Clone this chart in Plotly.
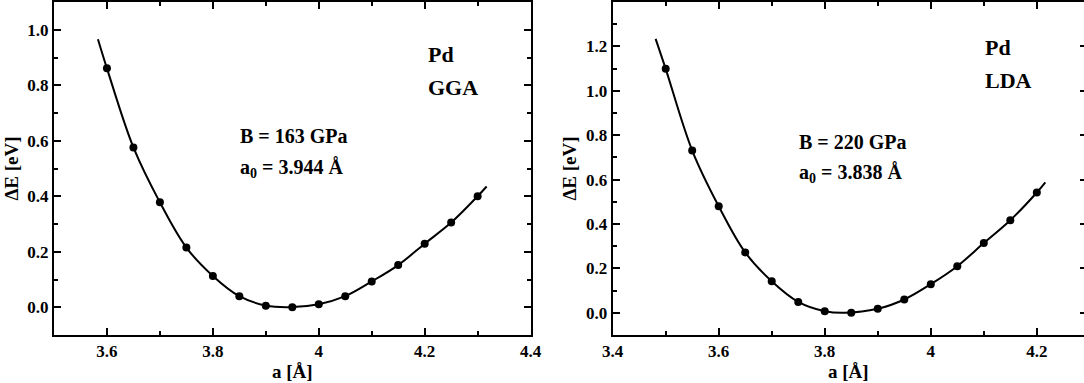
import plotly.graph_objects as go

# ---------------- data ----------------
gga_a = [3.60, 3.65, 3.70, 3.75, 3.80, 3.85, 3.90, 3.95, 4.00, 4.05, 4.10, 4.15, 4.20, 4.25, 4.30]
gga_dE = [0.861, 0.576, 0.378, 0.215, 0.113, 0.040, 0.005, 0.000, 0.011, 0.040, 0.093, 0.152, 0.229, 0.305, 0.400]
gga_fit_a = [3.583, 3.60, 3.65, 3.70, 3.75, 3.80, 3.85, 3.90, 3.944, 4.00, 4.05, 4.10, 4.15, 4.20, 4.25, 4.30, 4.317]
gga_fit_dE = [0.966, 0.861, 0.576, 0.378, 0.215, 0.113, 0.040, 0.006, 0.000, 0.011, 0.040, 0.093, 0.152, 0.229, 0.305, 0.400, 0.435]

lda_a = [3.50, 3.55, 3.60, 3.65, 3.70, 3.75, 3.80, 3.85, 3.90, 3.95, 4.00, 4.05, 4.10, 4.15, 4.20]
lda_dE = [1.099, 0.731, 0.480, 0.272, 0.142, 0.049, 0.007, 0.000, 0.018, 0.060, 0.129, 0.210, 0.314, 0.417, 0.542]
lda_fit_a = [3.481, 3.50, 3.55, 3.60, 3.65, 3.70, 3.75, 3.80, 3.838, 3.90, 3.95, 4.00, 4.05, 4.10, 4.15, 4.20, 4.216]
lda_fit_dE = [1.234, 1.099, 0.731, 0.480, 0.272, 0.142, 0.049, 0.007, 0.000, 0.018, 0.060, 0.129, 0.210, 0.314, 0.417, 0.542, 0.588]

x_title = "a [Å]"
y_title = "ΔE [eV]"
gga_labels = ["Pd", "GGA", "B = 163 GPa", "a<sub>0</sub> = 3.944 Å"]
lda_labels = ["Pd", "LDA", "B = 220 GPa", "a<sub>0</sub> = 3.838 Å"]

FONT = "Liberation Serif"

fig = go.Figure()

# fit curves
fig.add_trace(go.Scatter(x=gga_fit_a, y=gga_fit_dE, mode="lines",
                         line=dict(color="black", width=2, shape="spline", smoothing=1.0),
                         xaxis="x", yaxis="y", hoverinfo="skip"))
fig.add_trace(go.Scatter(x=lda_fit_a, y=lda_fit_dE, mode="lines",
                         line=dict(color="black", width=2, shape="spline", smoothing=1.0),
                         xaxis="x2", yaxis="y2", hoverinfo="skip"))
# data points
fig.add_trace(go.Scatter(x=gga_a, y=gga_dE, mode="markers",
                         marker=dict(color="black", size=8), xaxis="x", yaxis="y"))
fig.add_trace(go.Scatter(x=lda_a, y=lda_dE, mode="markers",
                         marker=dict(color="black", size=8), xaxis="x2", yaxis="y2"))
# invisible trace to register the right-side tick axis of the second panel
fig.add_trace(go.Scatter(x=lda_a[:1], y=lda_dE[:1], mode="markers",
                         marker=dict(color="rgba(0,0,0,0)", size=1),
                         xaxis="x2", yaxis="y3", hoverinfo="skip"))

minor = dict(ticks="inside", ticklen=4, tickwidth=2, tickcolor="black", dtick=0.1, showgrid=False)
common = dict(showline=True, linecolor="black", linewidth=2, ticks="inside", ticklen=7,
              tickwidth=2, tickcolor="black", showgrid=False, zeroline=False,
              tickfont=dict(family=FONT, size=17, color="black", weight="bold"),
              automargin=False, minor=minor)
xt = dict(text=x_title, font=dict(family=FONT, size=19, color="black", weight="bold"), standoff=4)
yt = dict(text=y_title, font=dict(family=FONT, size=19, color="black", weight="bold"), standoff=4)

fig.update_layout(
    width=1084, height=383,
    margin=dict(l=54, r=0, t=2, b=48),
    paper_bgcolor="white", plot_bgcolor="white",
    showlegend=False,
    font=dict(family=FONT, color="black", weight="bold"),
    xaxis=dict(domain=[0, 0.4627], range=[3.5, 4.4], tick0=3.4, dtick=0.2, anchor="y",
               mirror="ticks", title=xt, **common),
    yaxis=dict(domain=[0, 1], range=[-0.1, 1.1], tick0=0, dtick=0.2, tickformat=".1f",
               anchor="x", mirror="ticks", title=yt, **common),
    xaxis2=dict(domain=[0.5424, 1.0], range=[3.4, 4.289], tick0=3.4, dtick=0.2, anchor="y2",
                mirror="ticks", title=xt, **common),
    yaxis2=dict(domain=[0, 1], range=[-0.1, 1.4], tick0=0, dtick=0.2, tickformat=".1f",
                anchor="x2", mirror=False, title=yt, **common),
    yaxis3=dict(overlaying="y2", anchor="x2", side="right", range=[-0.1, 1.4], tick0=0, dtick=0.2,
                showline=False, showticklabels=False, ticks="inside", ticklen=4, tickwidth=2,
                tickcolor="black", showgrid=False, zeroline=False),
)

def ann(xref, yref, x, y, text, size):
    return dict(xref=xref, yref=yref, x=x, y=y, text=text, showarrow=False,
                xanchor="left", yanchor="middle",
                font=dict(family=FONT, size=size, color="black", weight="bold"))

annotations = [
    ann("x", "y", 4.2017, 0.9106, gga_labels[0], 22),
    ann("x", "y", 4.2017, 0.7916, gga_labels[1], 22),
    ann("x", "y", 3.848, 0.6167, gga_labels[2], 20),
    ann("x", "y", 3.848, 0.5002, gga_labels[3], 20),
    ann("x2", "y2", 4.0994, 1.196, lda_labels[0], 22),
    ann("x2", "y2", 4.0994, 1.048, lda_labels[1], 22),
    ann("x2", "y2", 3.7477, 0.771, lda_labels[2], 20),
    ann("x2", "y2", 3.7477, 0.629, lda_labels[3], 20),
]
fig.update_layout(annotations=annotations)

fig.write_html("out.html")
